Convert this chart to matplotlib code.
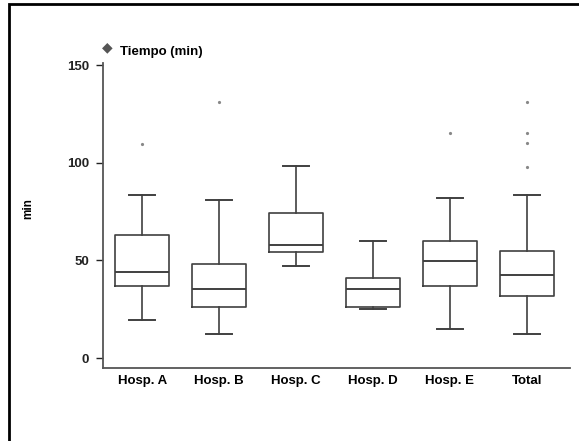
import matplotlib
matplotlib.use("Agg")
import matplotlib.pyplot as plt
from matplotlib.patches import Rectangle

# datos (min)
hospitales = ["Hosp. A", "Hosp. B", "Hosp. C", "Hosp. D", "Hosp. E", "Total"]
bigote_inf = [19.5, 12.5, 47, 25, 15, 12.5]
q1 = [37, 26, 54.5, 26, 37, 31.5]
mediana = [44, 35.5, 58, 35.5, 49.5, 42.5]
q3 = [63, 48, 74, 41, 60, 55]
bigote_sup = [83.5, 81, 98.5, 60, 82, 83.5]
atipicos = [[109.5], [131], [], [], [115], [131, 115, 110, 98]]

plt.rcParams["font.family"] = ["Liberation Sans", "DejaVu Sans"]
plt.rcParams["font.weight"] = "bold"

fig = plt.figure(figsize=(5.79, 4.41), dpi=100)
ax = fig.add_axes([0.178, 0.166, 0.806, 0.691])

stats = []
for i, nombre in enumerate(hospitales):
    stats.append({
        "label": nombre,
        "whislo": bigote_inf[i],
        "q1": q1[i],
        "med": mediana[i],
        "q3": q3[i],
        "whishi": bigote_sup[i],
        "fliers": atipicos[i],
    })

color = "#404040"
ax.bxp(
    stats,
    widths=0.7,
    showfliers=True,
    boxprops=dict(color=color, linewidth=1.2),
    medianprops=dict(color=color, linewidth=1.4),
    whiskerprops=dict(color=color, linewidth=1.2),
    capprops=dict(color=color, linewidth=1.4),
    capwidths=0.34,
    flierprops=dict(marker="o", markersize=2.3, markerfacecolor="#888888",
                    markeredgecolor="none"),
)

ax.set_xlim(0.49, 6.56)
ax.set_ylim(-5, 151)
ax.set_yticks([0, 50, 100, 150])
ax.tick_params(axis="y", labelsize=9.5, colors="#222222", length=5, width=1,
               direction="out", pad=5)
ax.tick_params(axis="x", labelsize=9.5, length=0, pad=5)
for lab in ax.get_xticklabels() + ax.get_yticklabels():
    lab.set_fontweight("bold")

ax.spines["top"].set_visible(False)
ax.spines["right"].set_visible(False)
ax.spines["left"].set_color("#555555")
ax.spines["bottom"].set_color("#555555")
ax.spines["left"].set_linewidth(1.3)
ax.spines["bottom"].set_linewidth(1.3)

# etiqueta del eje y
fig.text(0.049, 0.528, "min", fontsize=8.5, fontweight="bold", rotation=90,
         ha="center", va="center")

# titulo con simbolo
fig.text(0.186, 0.892, "\u25C6", fontsize=10, color="#555555", ha="center", va="center")
fig.text(0.207, 0.882, "Tiempo (min)", fontsize=9.5, fontweight="bold",
         ha="left", va="center")

# marco exterior
fig.patches.append(Rectangle((0.015, -0.05), 1.1, 1.04, transform=fig.transFigure,
                             fill=False, edgecolor="black", linewidth=2))

fig.savefig("out.png", dpi=100)
